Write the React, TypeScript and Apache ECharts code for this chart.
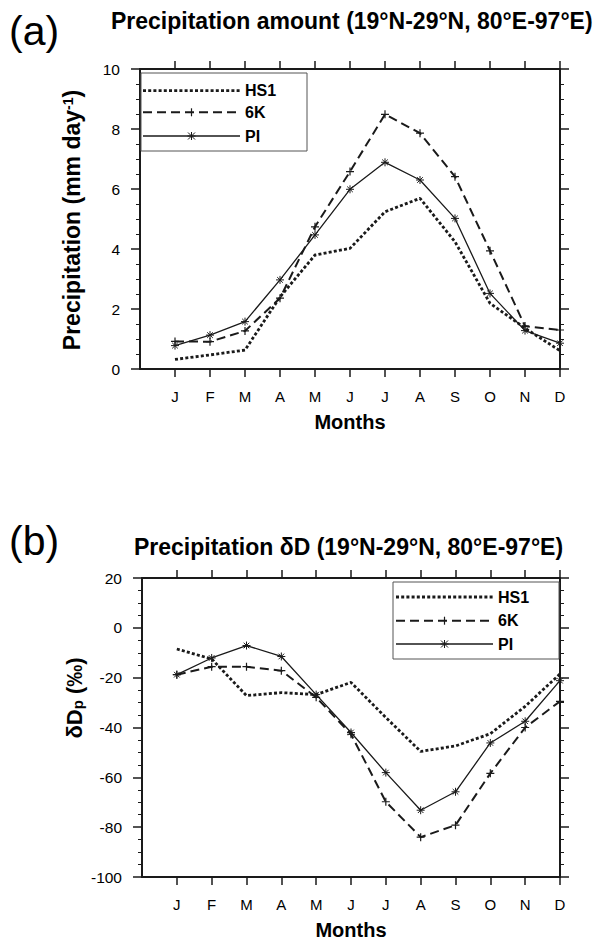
import React, { useEffect, useRef } from "react";
import * as echarts from "echarts";

const months = ["J", "F", "M", "A", "M", "J", "J", "A", "S", "O", "N", "D"];
const seriesNames = ["HS1", "6K", "PI"];

// Panel (a): precipitation amount (mm/day)
const precipHS1 = [0.32, 0.47, 0.63, 2.4, 3.8, 4.02, 5.24, 5.69, 4.24, 2.19, 1.36, 0.61];
const precip6K = [0.92, 0.91, 1.27, 2.36, 4.74, 6.58, 8.49, 7.86, 6.41, 3.94, 1.43, 1.3];
const precipPI = [0.78, 1.13, 1.58, 2.97, 4.47, 5.99, 6.89, 6.3, 5.02, 2.52, 1.28, 0.86];

// Panel (b): precipitation dD (permil)
const dHS1 = [-8.5, -12.5, -27.2, -26, -26.8, -21.9, -36, -49.6, -47.4, -42.5, -31.5, -18.5];
const d6K = [-18.8, -15.6, -15.6, -17.2, -27.9, -42.7, -69.8, -84, -79.2, -58.4, -40, -29.5];
const dPI = [-18.8, -12.1, -7.1, -11.5, -26.8, -42, -58.1, -73.2, -65.8, -46.2, -37.5, -21.2];

const FONT = "'Liberation Sans', Arial, Helvetica, sans-serif";
const INK = "#1a1a1a";
const PLUS = "path://M5,0L5,10M0,5L10,5";
const STAR = "path://M5,0L5,10M0,5L10,5M1.5,1.5L8.5,8.5M8.5,1.5L1.5,8.5";

const cats = ["", ...months];

function xAxes(gridIndex: number) {
  const common = {
    type: "category",
    gridIndex,
    data: cats,
    boundaryGap: false,
    axisLine: { show: true, onZero: false, lineStyle: { color: INK, width: 2 } },
    axisTick: {
      show: true,
      inside: false,
      length: 8,
      interval: (i: number) => i > 0,
      lineStyle: { color: INK, width: 1.5 },
    },
    splitLine: { show: false },
  };
  return [
    {
      ...common,
      position: "bottom",
      axisLabel: { interval: 0, margin: 20, fontSize: 15, color: "#000", fontFamily: FONT },
    },
    { ...common, position: "top", axisLabel: { show: false } },
  ];
}

function yAxes(gridIndex: number, min: number, max: number, interval: number) {
  const common = {
    type: "value",
    gridIndex,
    min,
    max,
    interval,
    axisLine: { show: true, onZero: false, lineStyle: { color: INK, width: 2 } },
    axisTick: { show: true, inside: false, length: 9, lineStyle: { color: INK, width: 1.5 } },
    minorTick: { show: true, splitNumber: 4, length: 4, lineStyle: { color: INK, width: 1 } },
    splitLine: { show: false },
    minorSplitLine: { show: false },
  };
  return [
    {
      ...common,
      position: "left",
      axisLabel: { margin: 20, fontSize: 15.5, color: "#000", fontFamily: FONT },
    },
    { ...common, position: "right", axisLabel: { show: false } },
  ];
}

function lines(gi: number, hs1: number[], k6: number[], pi: number[]) {
  const xi = gi * 2;
  const yi = gi * 2;
  const toPts = (arr: number[]) => arr.map((v, i) => [i + 1, v]);
  return [
    {
      name: seriesNames[0],
      type: "line",
      xAxisIndex: xi,
      yAxisIndex: yi,
      data: toPts(hs1),
      symbol: "none",
      lineStyle: { color: INK, width: 2.8, type: [3, 2.2], cap: "butt" },
      z: 3,
    },
    {
      name: seriesNames[1],
      type: "line",
      xAxisIndex: xi,
      yAxisIndex: yi,
      data: toPts(k6),
      symbol: PLUS,
      symbolSize: 8,
      itemStyle: { color: "none", borderColor: INK, borderWidth: 1.2 },
      lineStyle: { color: INK, width: 2, type: [9, 5], cap: "butt" },
      z: 3,
    },
    {
      name: seriesNames[2],
      type: "line",
      xAxisIndex: xi,
      yAxisIndex: yi,
      data: toPts(pi),
      symbol: STAR,
      symbolSize: 8,
      itemStyle: { color: "none", borderColor: INK, borderWidth: 1 },
      lineStyle: { color: INK, width: 1.3, type: "solid" },
      z: 3,
    },
  ];
}

function legend(x0: number, y0: number, w: number, h: number, lx0: number, lx1: number, ys: number[]) {
  const els: any[] = [
    {
      type: "rect",
      shape: { x: x0, y: y0, width: w, height: h },
      style: { fill: "#fff", stroke: "#555", lineWidth: 1 },
      z: 10,
    },
  ];
  const mid = (lx0 + lx1) / 2;
  const dashes: any[] = [[3, 2.2], [9, 5], null];
  const widths = [2.8, 2, 1.3];
  ys.forEach((y, i) => {
    els.push({
      type: "line",
      shape: { x1: lx0, y1: y, x2: lx1, y2: y },
      style: { stroke: INK, lineWidth: widths[i], lineDash: dashes[i] },
      z: 11,
    });
    els.push({
      type: "text",
      x: lx1 + 5,
      y,
      style: {
        text: seriesNames[i],
        fontSize: 16,
        fontWeight: "bold",
        fontFamily: FONT,
        fill: "#000",
        verticalAlign: "middle",
        align: "left",
      },
      z: 11,
    });
  });
  els.push({ type: "line", shape: { x1: mid, y1: ys[1] - 4, x2: mid, y2: ys[1] + 4 }, style: { stroke: INK, lineWidth: 1.2 }, z: 12 });
  const s = 3.5;
  [
    [0, -4, 0, 4],
    [-4, 0, 4, 0],
    [-s, -s, s, s],
    [s, -s, -s, s],
  ].forEach(([a, b, c, d]) =>
    els.push({
      type: "line",
      shape: { x1: mid + a, y1: ys[2] + b, x2: mid + c, y2: ys[2] + d },
      style: { stroke: INK, lineWidth: 1 },
      z: 12,
    })
  );
  return els;
}

function textEl(text: string, x: number, y: number, size: number, bold: boolean, align = "center", extra: any = {}) {
  return {
    type: "text",
    x,
    y,
    style: {
      text,
      fontSize: size,
      fontWeight: bold ? "bold" : "normal",
      fontFamily: FONT,
      fill: "#000",
      align,
      verticalAlign: "middle",
      ...extra,
    },
    z: 20,
  };
}

export default function App() {
  const ref = useRef<HTMLDivElement>(null);
  useEffect(() => {
    if (!ref.current) return;
    const chart = echarts.init(ref.current, null, { renderer: "svg" });
    const option: any = {
      animation: false,
      backgroundColor: "#fff",
      grid: [
        { left: 140, top: 69, width: 420, height: 300 },
        { left: 142, top: 578, width: 418, height: 299 },
      ],
      xAxis: [...xAxes(0), ...xAxes(1)],
      yAxis: [...yAxes(0, 0, 10, 2), ...yAxes(1, -100, 20, 20)],
      series: [...lines(0, precipHS1, precip6K, precipPI), ...lines(1, dHS1, d6K, dPI)],
      graphic: [
        textEl("(a)", 9, 31, 41, false, "left"),
        textEl("Precipitation amount (19°N-29°N, 80°E-97°E)", 111, 21, 23, true, "left"),
        textEl("(b)", 9, 541, 41, false, "left"),
        textEl("Precipitation δD (19°N-29°N, 80°E-97°E)", 134, 547, 23, true, "left"),
        textEl("Months", 350, 422, 20, true),
        textEl("Months", 351, 930, 20, true),
        {
          type: "text",
          x: 72,
          y: 220,
          rotation: Math.PI / 2,
          style: {
            text: "{a|Precipitation (mm day}{s|-1}{a|)}",
            align: "center",
            verticalAlign: "middle",
            fill: "#000",
            rich: {
              a: { fontSize: 23, fontWeight: "bold", fontFamily: FONT, fill: "#000" },
              s: { fontSize: 14, fontWeight: "bold", fontFamily: FONT, fill: "#000", verticalAlign: "top" },
            },
          },
          z: 20,
        },
        {
          type: "text",
          x: 74,
          y: 698,
          rotation: Math.PI / 2,
          style: {
            text: "{a|δD}{p|p}{a| (‰)}",
            align: "center",
            verticalAlign: "middle",
            fill: "#000",
            rich: {
              a: { fontSize: 22, fontWeight: "bold", fontFamily: FONT, fill: "#000" },
              p: { fontSize: 15, fontWeight: "bold", fontFamily: FONT, fill: "#000", verticalAlign: "bottom" },
            },
          },
          z: 20,
        },
        ...legend(141, 73, 166, 78, 143, 240, [90.7, 112.3, 136]),
        ...legend(393, 582, 166, 77, 396, 493, [597, 620.7, 644]),
      ],
    };
    chart.setOption(option);
    return () => chart.dispose();
  }, []);
  return (
    <div
      ref={ref}
      style={{ position: "absolute", left: 0, top: 0, width: 596, height: 943, background: "#fff" }}
    />
  );
}
